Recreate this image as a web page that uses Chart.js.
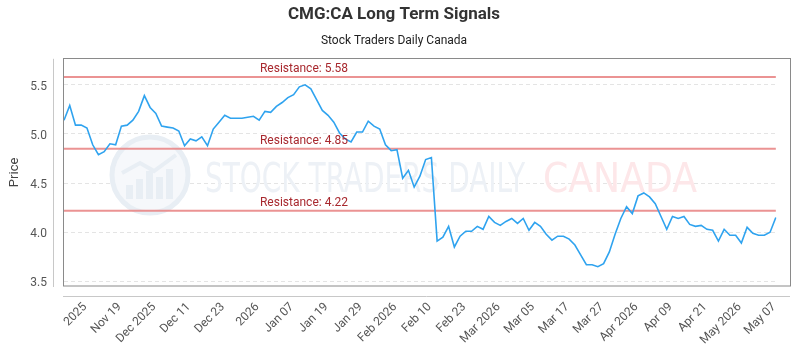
<!DOCTYPE html>
<html><head><meta charset="utf-8">
<script src="https://cdn.jsdelivr.net/npm/chart.js@4/dist/chart.umd.min.js"></script>
<style>html,body{margin:0;padding:0;background:#fff}#wrap{width:800px;height:350px}</style>
</head><body><div id="wrap"><canvas id="c" width="800" height="350"></canvas></div>
<script>
const tickLabels = ['2025','Nov 19','Dec 2025','Dec 11','Dec 23','2026','Jan 07','Jan 19','Jan 29','Feb 2026','Feb 10','Feb 23','Mar 2026','Mar 05','Mar 17','Mar 27','Apr 2026','Apr 09','Apr 21','May 2026','May 07'];
const prices = [
5.14,5.29,5.09,5.09,5.06,4.89,4.79,4.82,4.90,4.89,
5.08,5.09,5.14,5.23,5.39,5.27,5.21,5.08,5.07,5.06,
5.03,4.88,4.95,4.93,4.97,4.88,5.05,5.12,5.19,5.16,
5.16,5.16,5.17,5.18,5.14,5.23,5.22,5.28,5.32,5.37,
5.40,5.48,5.50,5.46,5.35,5.24,5.19,5.12,5.01,4.95,
4.92,5.02,5.02,5.13,5.08,5.05,4.89,4.83,4.84,4.55,
4.63,4.46,4.57,4.74,4.76,3.91,3.95,4.06,3.85,3.96,
4.01,4.01,4.06,4.03,4.16,4.10,4.07,4.11,4.14,4.09,
4.14,4.02,4.10,4.06,3.98,3.92,3.96,3.96,3.93,3.87,
3.77,3.67,3.67,3.65,3.68,3.80,3.98,4.14,4.26,4.19,
4.37,4.40,4.36,4.29,4.16,4.03,4.16,4.14,4.16,4.08,
4.06,4.07,4.03,4.02,3.91,4.03,3.97,3.97,3.89,4.05,
3.99,3.97,3.97,4.00,4.15];
const resistanceLevels = [5.58, 4.85, 4.22];
const yTickValues = [3.5, 4.0, 4.5, 5.0, 5.5];
const firstTickIndex = 3, tickStep = 6;

const categories = prices.map((_, i) =>
  (i >= firstTickIndex && (i - firstTickIndex) % tickStep === 0) ? (tickLabels[(i - firstTickIndex) / tickStep] || '') : '');

const datasets = [{
  data: prices, borderColor: '#2fa3ef', borderWidth: 1.6, pointRadius: 0, tension: 0, order: 0, fill: false
}].concat(resistanceLevels.map(lv => ({
  data: prices.map(() => lv), borderColor: 'rgba(232,128,128,0.85)', borderWidth: 2, pointRadius: 0, order: 1, fill: false
})));

const decor = {
  id: 'decor',
  beforeDatasetsDraw(chart) {
    const ctx = chart.ctx;
    ctx.save();
    const cx = 150, cy = 175, r = 38;
    ctx.beginPath(); ctx.arc(cx, cy, r, 0, Math.PI * 2);
    ctx.fillStyle = '#f6f8fb'; ctx.fill();
    ctx.lineWidth = 5; ctx.strokeStyle = '#e8eef4'; ctx.stroke();
    ctx.fillStyle = '#e8eef4';
    const bars = [[-24, 14], [-14, 20], [-4, 28], [6, 22], [16, 30]];
    bars.forEach(b => ctx.fillRect(cx + b[0], cy + 24 - b[1], 7, b[1]));
    ctx.beginPath(); ctx.moveTo(cx - 28, cy - 2); ctx.lineTo(cx - 10, cy - 12); ctx.lineTo(cx + 4, cy - 4); ctx.lineTo(cx + 26, cy - 20);
    ctx.lineWidth = 4; ctx.strokeStyle = '#e8eef4'; ctx.stroke();
    ctx.font = '40px "DejaVu Sans Condensed", "DejaVu Sans", sans-serif';
    ctx.textBaseline = 'alphabetic';
    ctx.textAlign = 'left';
    const t1 = 'STOCK TRADERS DAILY', t2 = 'CANADA';
    const w1 = ctx.measureText(t1).width, w2 = ctx.measureText(t2).width;
    ctx.save(); ctx.translate(205, 192); ctx.scale(320 / w1, 1);
    ctx.fillStyle = '#edf1f6'; ctx.fillText(t1, 0, 0); ctx.restore();
    ctx.save(); ctx.translate(543, 192); ctx.scale(154 / w2, 1);
    ctx.fillStyle = '#fde7e9'; ctx.fillText(t2, 0, 0); ctx.restore();
    ctx.restore();
  },
  afterDatasetsDraw(chart) {
    const ctx = chart.ctx, ys = chart.scales.y, a = chart.chartArea;
    ctx.save();
    ctx.font = '12px Roboto, sans-serif';
    ctx.fillStyle = '#a8282e';
    ctx.textAlign = 'center'; ctx.textBaseline = 'middle';
    resistanceLevels.forEach(lv => {
      const y = ys.getPixelForValue(lv);
      ctx.fillText('Resistance: ' + lv.toFixed(2), 304, y - 8);
    });
    ctx.strokeStyle = '#8a8a8a'; ctx.lineWidth = 1;
    ctx.strokeRect(63.5, Math.round(a.top) - 0.5, 790 - 63, Math.round(a.bottom) - Math.round(a.top) + 0.5);
    ctx.strokeStyle = '#c8c8c8';
    ctx.beginPath(); ctx.moveTo(53.5, a.top); ctx.lineTo(53.5, a.bottom + 1); ctx.stroke();
    ctx.beginPath(); ctx.moveTo(63, 296.5); ctx.lineTo(790, 296.5); ctx.stroke();
    ctx.restore();
  }
};

new Chart(document.getElementById('c'), {
  type: 'line',
  data: { labels: categories, datasets },
  options: {
    responsive: false, animation: false, devicePixelRatio: 1,
    layout: { padding: { left: 0, right: 12, top: 0, bottom: 0 } },
    plugins: {
      legend: { display: false }, tooltip: { enabled: false },
      title: { display: true, text: 'CMG:CA Long Term Signals', color: '#333', font: { family: 'Roboto', size: 17, weight: 'bold' }, padding: { top: 5, bottom: 5 } },
      subtitle: { display: true, text: 'Stock Traders Daily Canada', color: '#222', font: { family: 'Roboto', size: 12 }, padding: { top: 3, bottom: 11 } }
    },
    scales: {
      x: {
        type: 'category',
        grid: { display: false, drawTicks: false },
        border: { display: false },
        ticks: { autoSkip: false, minRotation: 45, maxRotation: 45, padding: 14, labelOffset: 4, color: '#555', font: { family: 'Roboto', size: 12 },
          callback: (v) => categories[v] },
        afterFit: s => { s.height = 64; }
      },
      y: {
        min: 3.453, max: 5.765,
        afterBuildTicks: s => { s.ticks = yTickValues.map(v => ({ value: v })); },
        afterFit: s => { s.width = 64; },
        grid: { color: '#e4e4e4', drawTicks: false },
        border: { display: false, dash: [4, 3] },
        ticks: { padding: 17, labelOffset: 2, color: '#555', font: { family: 'Roboto', size: 12 }, callback: v => Number(v).toFixed(1) },
        title: { display: true, text: 'Price', color: '#444', font: { family: 'Roboto', size: 13 }, padding: { top: 7, bottom: 0 } }
      }
    }
  },
  plugins: [decor]
});
</script></body></html>
